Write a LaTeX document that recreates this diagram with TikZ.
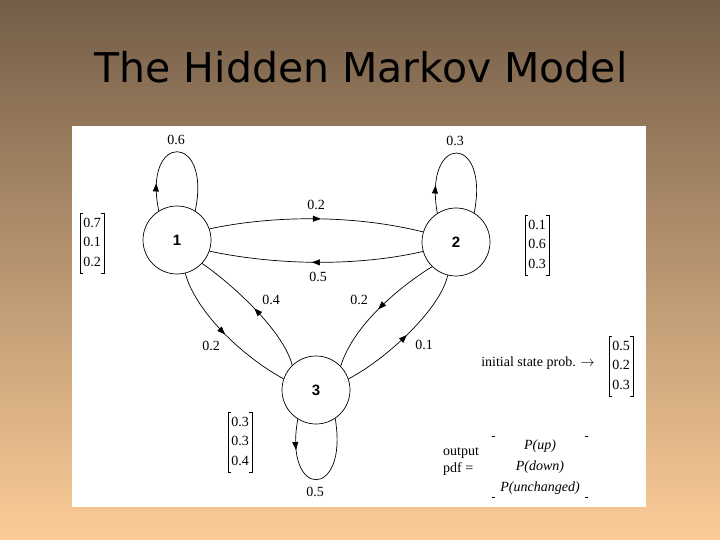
\documentclass[tikz,border=0pt]{standalone}
\usepackage{fontspec}
\setmainfont{Liberation Serif}
\newfontfamily\titlefont{DejaVu Sans}
\newfontfamily\statefont{Liberation Sans}
\usetikzlibrary{arrows.meta,decorations.markings}
\definecolor{bgtop}{RGB}{116,94,72}
\definecolor{bgbot}{RGB}{252,204,152}
\newcommand{\probvec}[3]{\renewcommand{\arraystretch}{1.15}\begin{tabular}{@{}c@{}}#1\\#2\\#3\end{tabular}}

\begin{document}
\begin{tikzpicture}[x=1pt, y=-1pt, >={Triangle[length=8pt,width=6pt]},
  state/.style={circle, draw, line width=0.7pt, minimum size=68pt, inner sep=0pt,
    font=\statefont\bfseries\fontsize{15}{15}\selectfont},
  lbl/.style={font=\fontsize{14}{17}\selectfont, inner sep=1pt},
  vec/.style={lbl, inner xsep=3pt, inner ysep=0.5pt},
  pdfvec/.style={font=\fontsize{14}{21}\selectfont, align=center, inner sep=0pt},
  trans/.style={line width=0.7pt},
  midarrow/.style={trans, postaction={decorate},
    decoration={markings, mark=at position #1 with {\arrow{>}}}}]
  \useasboundingbox (0,0) rectangle (720,540);
  \shade[top color=bgtop, bottom color=bgbot] (0,0) rectangle (720,540);
  \fill[white] (72,126) rectangle (646,507);
  \node (title) at (361,67) {\titlefont\fontsize{41}{46}\selectfont The Hidden Markov Model};

  \node[state] (n1) at (177,240) {1};
  \node[state] (n2) at (456,242) {2};
  \node[state] (n3) at (316,390) {3};

  \draw[midarrow=0.2] (n1.122) .. controls (142,132) and (212,132) .. (n1.58);
  \draw[midarrow=0.2] (n2.123) .. controls (423,133) and (490,133) .. (n2.58);
  \draw[midarrow=0.22] (n3.238) .. controls (283,500) and (349,500) .. (n3.304);
  \draw[midarrow=0.52] (n1.19) .. controls (280,214) and (360,216) .. (n2.163);
  \draw[midarrow=0.52] (n2.196) .. controls (360,266) and (280,266) .. (n1.341);
  \draw[midarrow=0.5] (n1.284) .. controls (195,310) and (240,355) .. (n3.161);
  \draw[midarrow=0.5] (n3.134) .. controls (285,335) and (240,290) .. (n1.317);
  \draw[midarrow=0.5] (n2.226) .. controls (410,280) and (355,320) .. (n3.44);
  \draw[midarrow=0.5] (n3.19) .. controls (385,360) and (440,310) .. (n2.256);

  \node[lbl] (p11) at (176,140) {0.6};
  \node[lbl] (p22) at (455,141) {0.3};
  \node[lbl] (p12) at (316,205) {0.2};
  \node[lbl] (p21) at (318,277) {0.5};
  \node[lbl] (p31) at (271,300) {0.4};
  \node[lbl] (p23) at (359,300) {0.2};
  \node[lbl] (p13) at (211,346) {0.2};
  \node[lbl] (p32) at (424,345) {0.1};
  \node[lbl] (p33) at (315,492) {0.5};

  \node[vec] (b1) at (92,243) {\probvec{0.7}{0.1}{0.2}};
  \node[vec] (b2) at (537,245) {\probvec{0.1}{0.6}{0.3}};
  \node[vec] (b3) at (240,442) {\probvec{0.3}{0.3}{0.4}};
  \node[vec] (pi) at (621,366) {\probvec{0.5}{0.2}{0.3}};
  \foreach \v in {b1,b2,b3,pi} {
    \draw[trans] ([xshift=3pt]\v.north west) -- (\v.north west) -- (\v.south west) -- ++(3,0);
    \draw[trans] ([xshift=-3pt]\v.north east) -- (\v.north east) -- (\v.south east) -- ++(-3,0);
  }
  \node[lbl, anchor=east] (pilbl) at (596,363) {initial state prob. $\rightarrow$};

  \node[lbl, align=left, anchor=west] (outlbl) at (442,462) {output\\pdf =};
  \node[pdfvec, minimum width=96pt, minimum height=60pt] (pdf) at (540,467)
    {\textit{P(up)}\\\textit{P(down)}\\\textit{P(unchanged)}};
  \foreach \c/\d in {north west/3, south west/3, north east/-3, south east/-3}
    \draw[trans] (pdf.\c) -- ++(\d,0);
\end{tikzpicture}
\end{document}
